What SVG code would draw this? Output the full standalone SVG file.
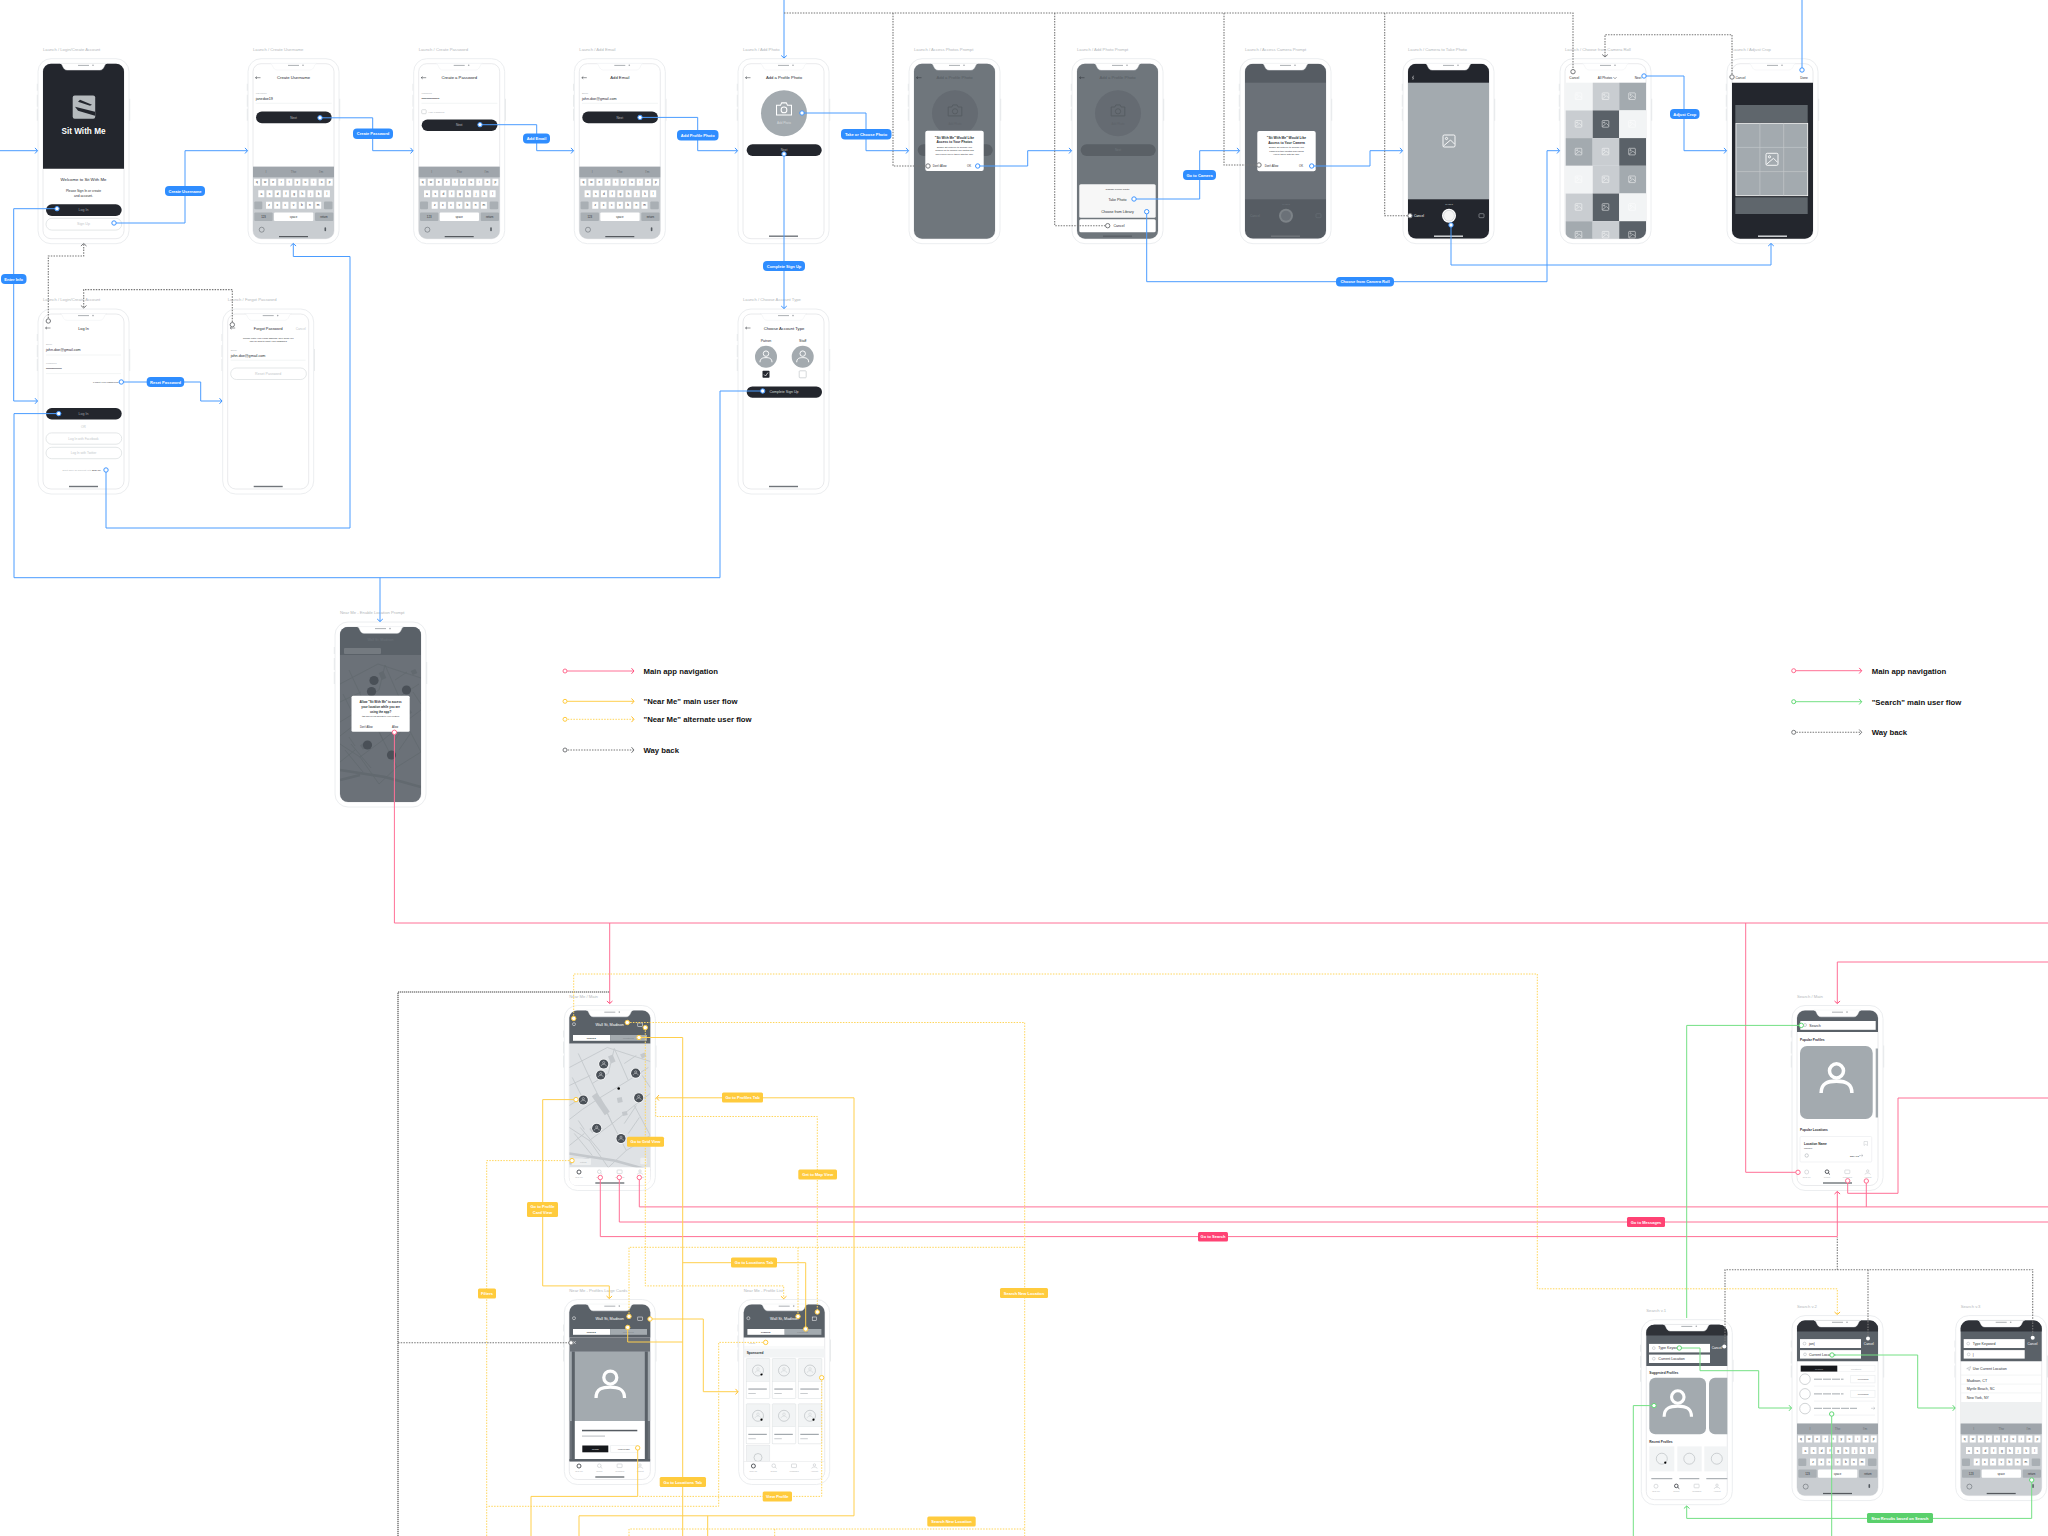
<svg xmlns="http://www.w3.org/2000/svg" width="2048" height="1536" viewBox="0 0 2048 1536">
<style>
text{font-family:"Liberation Sans",Arial,sans-serif;fill:#2b2e33;font-size:3.6px}
.m{text-anchor:middle}.e{text-anchor:end}.h{font-weight:700}
.nl{font-size:4.2px;fill:#b4b8bb}
.ti{font-size:4.2px;fill:#25282e}
.sm{font-size:2.4px;fill:#aeb2b6}
.v{font-size:3.7px;fill:#25282e}
.tn{font-size:2.5px;fill:#44484d}
.w{fill:#fff}.lg{fill:#c3c7ca}
.bd{fill:#23262d}.bo{fill:#fff;stroke:#d9dcde;stroke-width:.7}
.hr{stroke:#eef0f1;stroke-width:.7;fill:none}
.ar{stroke:#30343a;stroke-width:.5;fill:none}
.c{fill:none;stroke-width:1}
.b{stroke:#4a9cff;marker-end:url(#ab)}.b0{stroke:#4a9cff}
.g{stroke:#777;stroke-width:1.1;stroke-dasharray:1.5 1.2;marker-end:url(#ag)}.g0{stroke:#777;stroke-width:1.1;stroke-dasharray:1.5 1.2}
.gt{stroke:#777;stroke-width:1.5;stroke-dasharray:1.2 .8}
.p{stroke:#ff7096;marker-end:url(#ap)}.p0{stroke:#ff7096}
.y{stroke:#ffcf4d;marker-end:url(#ay)}.y0{stroke:#ffcf4d}
.d{stroke:#ffd65c;stroke-dasharray:1.5 1.3;marker-end:url(#ay)}.d0{stroke:#ffd65c;stroke-dasharray:1.5 1.3}
.n{stroke:#74e084;marker-end:url(#an)}.n0{stroke:#74e084}
.cb,.cg,.cp,.cy,.cn{fill:#fff;stroke-width:1}
.cb{stroke:#3d94ff}.cg{stroke:#77797c}.cp{stroke:#ff6b8f}.cy{stroke:#ffcb3d}.cn{stroke:#5fd873}
.lb{fill:#2f8dff}.ly{fill:#ffcb3d}.lp{fill:#ff4274}.ln{fill:#5ad06c}
.lt{font-size:4px;font-weight:700;fill:#fff;text-anchor:middle}
.lgd{font-size:7.750px;font-weight:700;fill:#111}
</style>
<defs>
<marker id="ab" markerUnits="userSpaceOnUse" markerWidth="6" markerHeight="8" refX="4" refY="4" orient="auto"><path d="M1.5 1.2L4 4L1.5 6.8" fill="none" stroke="#3d94ff"/></marker>
<marker id="ag" markerUnits="userSpaceOnUse" markerWidth="6" markerHeight="8" refX="4" refY="4" orient="auto"><path d="M1.5 1.2L4 4L1.5 6.8" fill="none" stroke="#77797c"/></marker>
<marker id="ap" markerUnits="userSpaceOnUse" markerWidth="6" markerHeight="8" refX="4" refY="4" orient="auto"><path d="M1.5 1.2L4 4L1.5 6.8" fill="none" stroke="#ff4f7e"/></marker>
<marker id="ay" markerUnits="userSpaceOnUse" markerWidth="6" markerHeight="8" refX="4" refY="4" orient="auto"><path d="M1.5 1.2L4 4L1.5 6.8" fill="none" stroke="#ffc02e"/></marker>
<marker id="an" markerUnits="userSpaceOnUse" markerWidth="6" markerHeight="8" refX="4" refY="4" orient="auto"><path d="M1.5 1.2L4 4L1.5 6.8" fill="none" stroke="#5fd873"/></marker>
<clipPath id="scr"><rect x="5" y="5" width="81" height="175" rx="8"/></clipPath>
<g id="frame">
<path d="M-.6 25v7M-.6 36v12M-.6 50v12M91.6 40v22" stroke="#e6e8ea" stroke-width="1.2"/>
<rect width="91" height="185" rx="13" fill="#fff" stroke="#eceef0"/>
<rect x="5" y="5" width="81" height="175" rx="8" fill="#fff" stroke="#e3e5e7" stroke-width=".8"/>
</g>
<g id="notch">
<path d="M22 4.6H69C66 5 66.500 11.300 62 11.300H29C24.500 11.300 25 5 22 4.600Z" fill="#fff" stroke="#eceef0" stroke-width=".5"/>
<rect x="40" y="6.200" width="11" height=".9" fill="#a4a8ac"/><circle cx="55" cy="6.600" r=".8" fill="#a4a8ac"/>
</g>
<rect id="home" x="31" y="176.800" width="29" height="1.400" fill="#70757a"/>
<g id="back"><path class="ar" d="M-2.500 0H2.500M-2.500 0L-1 -1.200M-2.500 0L-1 1.200"/></g>
<g id="user" fill="none"><circle cy="-3.200" r="2.600"/><path d="M-5.700 5C-5.700 1.200-3 .6 0 .6S5.700 1.200 5.700 5"/></g>
<g id="image" fill="none"><rect x="-6" y="-6" width="12" height="12" rx="1.200"/><circle cx="-2.500" cy="-2.500" r="1.100"/><path d="M-5.500 5L1.500 -1L5.500 3"/></g>
<g id="camera" fill="none"><path d="M-6.500 -3.500H-3L-2 -5.500H2L3 -3.500H6.500V5H-6.500Z"/><circle cy=".6" r="2.500"/></g>
<g id="cell"><use href="#image" stroke="#fff" stroke-width=".9" transform="scale(.55)"/></g>
<g id="kb">
<path d="M5 108H86V172a8 8 0 0 1-8 8H13a8 8 0 0 1-8-8Z" fill="#c9cdd1"/>
<rect x="5" y="108" width="81" height="10.600" fill="#9fa5ab"/>
<path d="M6 123.500H85" stroke="#fff" stroke-width="7" stroke-dasharray="6 2.080"/>
<path d="M10.300 135H82" stroke="#fff" stroke-width="7" stroke-dasharray="6 2.200"/>
<path d="M18 146.500H73.400" stroke="#fff" stroke-width="7" stroke-dasharray="6 2.200"/>
<rect x="6.300" y="142.900" width="8" height="7.600" rx="1" fill="#a9afb4"/><rect x="76" y="142.900" width="8.500" height="7.600" rx="1" fill="#a9afb4"/>
<rect x="6.300" y="153.800" width="18.400" height="8.400" rx="1" fill="#a9afb4"/><rect x="26" y="153.800" width="39.300" height="8.400" rx="1" fill="#fff"/><rect x="67" y="153.800" width="18.300" height="8.400" rx="1" fill="#a9afb4"/>
<g style="font-size:3.200px" class="m">
<text class="m" style="fill:#666c72;font-size:3.200px" x="18" y="114.500">I</text><text class="m" style="fill:#666c72;font-size:3.200px" x="45.500" y="114.500">The</text><text class="m" style="fill:#666c72;font-size:3.200px" x="73" y="114.500">I'm</text>
<text class="m" x="9 17.100 25.200 33.200 41.300 49.400 57.500 65.600 73.600 81.700" y="124.700" style="font-size:3.200px">qwertyuiop</text>
<text class="m" x="13.300 21.500 29.700 37.900 46.100 54.300 62.500 70.700 78.900" y="136.200" style="font-size:3.200px">asdfghjkl</text>
<text class="m" x="21 29.200 37.400 45.600 53.800 62 70.200" y="147.700" style="font-size:3.200px">zxcvbnm</text>
<text class="m" x="15.500" y="159" style="font-size:2.800px">123</text><text class="m" x="45.500" y="159" style="font-size:2.800px">space</text><text class="m" x="76" y="159" style="font-size:2.800px">return</text>
</g>
<circle cx="13.700" cy="171" r="2.500" fill="none" stroke="#555b61" stroke-width=".5"/><rect x="76.500" y="168.500" width="1.600" height="4" rx=".8" fill="#555b61"/>
<rect x="31" y="177.300" width="29" height="1.200" fill="#55595e"/>
</g>
<g id="nh">
<path d="M5 38V13a8 8 0 0 1 8-8H78a8 8 0 0 1 8 8V38Z" fill="#5a6168"/>
<text class="m" x="45.500" y="20.500" style="fill:#fff;font-size:3.800px">Wall St, Madison</text>
<circle cx="9.700" cy="18.700" r="1.500" fill="none" stroke="#fff" stroke-width=".5"/>
<rect x="73.500" y="17.500" width="4.500" height="3.500" fill="none" stroke="#fff" stroke-width=".5"/>
<rect x="8.700" y="29.500" width="37.300" height="5.800" fill="#fff"/><rect x="46" y="29.500" width="36.700" height="5.800" fill="#a3aaaf"/>
<text class="m h" x="27" y="33.300" style="font-size:2.500px">Profiles</text><text class="m" x="64" y="33.300" style="font-size:2.500px;fill:#7d8388">Locations</text>
</g>
<g id="tabs">
<g fill="none" stroke="#b8bcc0" stroke-width=".5"><circle cx="14.700" cy="166.500" r="2"/><circle cx="35" cy="166.200" r="1.800"/><path d="M36.300 167.500L38 169"/><rect x="52.800" y="164.500" width="5" height="3.600" rx=".6"/><circle cx="75.700" cy="165.500" r="1.200"/><path d="M73 169c0-2 5.400-2 5.400 0"/></g>
<text class="m sm" style="font-size:2px" x="14.700" y="172">Near Me</text><text class="m sm" style="font-size:2px" x="35" y="172">Search</text><text class="m sm" style="font-size:2px" x="55.400" y="172">Messages</text><text class="m sm" style="font-size:2px" x="75.700" y="172">Account</text>
</g>
<circle id="nm-on" cx="14.700" cy="166.500" r="2" fill="none" stroke="#30343a" stroke-width=".7"/>
<g id="se-on" fill="none" stroke="#30343a" stroke-width=".7"><circle cx="35" cy="166.200" r="1.800"/><path d="M36.300 167.500L38 169"/></g>
<g id="map" fill="none">
<path d="M5 62L43 42L86 56M14 48L28 78L48 118M50 43L64 75L84 62M64 75L36 92L18 104L5 114M36 92L48 118L70 100L86 88M70 100L86 130M48 118L25 135L5 122M48 118L62 145L44 162M62 145L86 130M25 135L44 162M10 128L28 150M16 122L36 146M5 140L20 128M5 80L26 70M8 72L18 92L5 100M28 78L44 68M44 68L50 43M60 58L72 50M72 100L60 118M75 112L64 128M78 70L86 82M14 115L20 124"/>
<path stroke-width="2.500" d="M5 148L50 155L86 165M5 158L25 153"/>
<path stroke-width="6" d="M30 89L43 108"/>
<path stroke-width="5" d="M46 50L49 57M55 92L56 97M60 106L61 110M72 88L75 92M27 122L30 126M78 48L80 52"/>
</g>
<g id="pin"><circle r="5.200" fill="#fff"/><circle r="4.600" fill="#4a5057"/><use href="#user" stroke="#fff" stroke-width=".9" transform="scale(.42)"/></g>
<g id="dimphoto">
<rect x="5" y="5" width="81" height="175" rx="8" fill="#6f767c"/>
<text class="m" x="45.500" y="20" style="font-size:4.200px;fill:#565c62">Add a Profile Photo</text>
<use href="#back" transform="translate(10 19)"/>
<circle cx="46" cy="54.600" r="23" fill="#656b72"/><use href="#camera" stroke="#565c62" stroke-width=".9" transform="translate(46 52) scale(1.050)"/>
<text class="m" x="46" y="66" style="font-size:2.800px;fill:#5d6369">Add Photo</text>
<rect x="8.700" y="85.600" width="75" height="11.700" rx="5.800" fill="#5a6066"/><text class="m" x="46" y="92.600" style="fill:#6f767c;font-size:3px">Next</text>
</g>
<g id="lcard"><rect width="23.500" height="40" rx=".8" fill="#f2f4f5" stroke="#dfe2e4" stroke-width=".6"/><rect y="23" width="23.500" height="17" fill="#fff" stroke="#dfe2e4" stroke-width=".4"/><circle cx="11.700" cy="12" r="5.500" fill="none" stroke="#b2b7bb" stroke-width=".6"/><use href="#user" stroke="#b2b7bb" stroke-width=".6" transform="translate(11.700 12) scale(.5)"/><rect x="2" y="30" width="18.500" height="1.100" fill="#9aa0a6"/><rect x="2" y="34.500" width="7.500" height=".9" fill="#c3c7ca"/></g>
</defs>
<rect width="2048" height="1536" fill="#fff"/>

<g id="phone-login-create" transform="translate(38 58.700)"><use href="#frame"/><text class="nl" x="5" y="-8">Launch / Login/Create Account</text>
<path d="M5 110V13a8 8 0 0 1 8-8H78a8 8 0 0 1 8 8V110Z" fill="#23262d"/>
<rect x="34.700" y="36.700" width="22.500" height="23.300" rx="2" fill="#b5babd"/><path d="M37 48L57 53V57L40 52Z" fill="#23262d"/><path d="M42 41L54 46L52 47L40 43Z" fill="#23262d"/>
<text class="m h" x="45.500" y="75.200" style="fill:#fff;font-size:8.200px">Sit With Me</text>
<text class="m" x="45.500" y="122.700" style="font-size:4.300px;fill:#25282e">Welcome to Sit With Me</text>
<text class="m" x="45.500" y="133.200" style="font-size:3.300px">Please Sign In or create</text><text class="m" x="45.500" y="138.500" style="font-size:3.300px">and account.</text>
<rect class="bd" x="8" y="145.500" width="75.700" height="11.800" rx="5.900"/><text class="m" x="45.500" y="152.600" style="fill:#9ca1a6">Log In</text>
<rect class="bo" x="8" y="159.600" width="75.700" height="11.800" rx="5.900"/><text class="m lg" x="45.500" y="166.700">Sign Up</text>
<use href="#notch"/></g>

<g id="phone-create-username" transform="translate(248 58.700)"><use href="#frame"/><text class="nl" x="5" y="-8">Launch / Create Username</text>
<use href="#back" transform="translate(10 19)"/><text class="m ti" x="45.500" y="20.500">Create Username</text>
<text class="sm" x="7.700" y="35.500">Username</text><text class="v" x="7.700" y="41.300">janedoe19</text><path class="hr" d="M7.700 44.600H83.700"/>
<rect class="bd" x="8" y="52.900" width="75.700" height="11.700" rx="5.800"/><text class="m" x="45.500" y="60" style="fill:#bbb;font-size:3.200px">Next</text>
<use href="#kb"/><use href="#notch"/></g>

<g id="phone-create-password" transform="translate(413.700 58.700)"><use href="#frame"/><text class="nl" x="5" y="-8">Launch / Create Password</text>
<use href="#back" transform="translate(10 19)"/><text class="m ti" x="45.500" y="20.500">Create a Password</text>
<text class="sm" x="7.700" y="35.500">Password</text><text class="v" x="7.700" y="41.300" style="font-size:3px">•••••••••••••••••</text><path class="hr" d="M7.700 44.600H83.700"/>
<rect x="8" y="51" width="4.500" height="4" rx=".8" fill="none" stroke="#c3c7ca" stroke-width=".6"/><text class="sm" x="14.500" y="54">Hide Password</text>
<rect class="bd" x="8" y="60.800" width="75.700" height="11.400" rx="5.700"/><text class="m" x="45.500" y="67.700" style="fill:#bbb;font-size:3.200px">Next</text>
<use href="#kb"/><use href="#notch"/></g>

<g id="phone-add-email" transform="translate(574.300 58.700)"><use href="#frame"/><text class="nl" x="5" y="-8">Launch / Add Email</text>
<use href="#back" transform="translate(10 19)"/><text class="m ti" x="45.500" y="20.500">Add Email</text>
<text class="sm" x="7.700" y="35.500">Email</text><text class="v" x="7.700" y="41.300">john.doe@gmail.com</text><path class="hr" d="M7.700 44.600H83.700"/>
<rect class="bd" x="8" y="52.900" width="75.700" height="11.700" rx="5.800"/><text class="m" x="45.500" y="60" style="fill:#bbb;font-size:3.200px">Next</text>
<use href="#kb"/><use href="#notch"/></g>

<g id="phone-add-photo" transform="translate(738 58.700)"><use href="#frame"/><text class="nl" x="5" y="-8">Launch / Add Photo</text>
<use href="#back" transform="translate(10 19)"/><text class="m ti" x="46" y="20.500">Add a Profile Photo</text>
<circle cx="46" cy="54.600" r="23" fill="#a3aaaf"/><use href="#camera" stroke="#fff" stroke-width=".9" transform="translate(46 50.500) scale(1.150)"/>
<text class="m" x="46" y="65.500" style="font-size:3px;fill:#d6d9db">Add Photo</text>
<rect class="bd" x="8.700" y="85.600" width="75" height="11.700" rx="5.800"/><text class="m" x="46" y="92.600" style="fill:#bbb;font-size:3.200px">Next</text>
<use href="#home"/><use href="#notch"/></g>

<g id="phone-access-photos" transform="translate(909 58.700)"><use href="#frame"/><text class="nl" x="5" y="-8">Launch / Access Photos Prompt</text>
<use href="#dimphoto"/>
<rect x="16.300" y="72" width="58.400" height="40.400" rx="2" fill="#fff"/>
<text class="m h" x="45.500" y="80" style="font-size:3.300px">"Sit With Me" Would Like</text><text class="m h" x="45.500" y="84.800" style="font-size:3.300px">Access to Your Photos</text>
<text class="m" x="45.500" y="89.200" style="font-size:2.300px">Enable Sit With Me to access your</text><text class="m" x="45.500" y="92.700" style="font-size:2.300px">camera roll to upload your photos and</text><text class="m" x="45.500" y="96.200" style="font-size:2.300px">open ones you've taken with the app.</text>
<text class="m" x="30.700" y="108.700" style="font-size:2.800px">Don't Allow</text><text class="m" x="60" y="108.700" style="font-size:2.800px">OK</text>
<use href="#notch"/></g>

<g id="phone-photo-prompt" transform="translate(1072 58.700)"><use href="#frame"/><text class="nl" x="5" y="-8">Launch / Add Photo Prompt</text>
<use href="#dimphoto"/>
<rect x="7.300" y="125.600" width="76.400" height="33.400" rx="1.500" fill="#f7f7f7"/>
<rect x="7.300" y="160.600" width="76.400" height="13" rx="1.500" fill="#fff"/>
<text class="m" x="45.500" y="131.600" style="font-size:2.500px">Change Profile Photo</text>
<text class="m" x="45.500" y="141.900">Take Photo</text><text class="m" x="45.500" y="154.300">Choose from Library</text><text class="m" x="47" y="168.300">Cancel</text>
<rect x="31" y="176.800" width="29" height="1.400" fill="#5a6066"/><use href="#notch"/></g>

<g id="phone-access-camera" transform="translate(1240 58.700)"><use href="#frame"/><text class="nl" x="5" y="-8">Launch / Access Camera Prompt</text>
<g clip-path="url(#scr)"><rect x="5" y="5" width="81" height="175" fill="#565c63"/><rect x="5" y="24" width="81" height="116.600" fill="#6b7178"/></g>
<circle cx="46" cy="157" r="7" fill="#7d8388"/><circle cx="46" cy="157" r="5" fill="#6b7178"/>
<text class="m" x="46" y="146" style="font-size:2.200px;fill:#6f767c">PHOTO</text><text x="10" y="158.200" style="fill:#6f767c;font-size:3.200px">Cancel</text>
<rect x="76" y="155" width="5" height="4" rx=".8" fill="none" stroke="#6f767c" stroke-width=".5"/>
<rect x="17.300" y="72.300" width="58.400" height="40.300" rx="2" fill="#fff"/>
<text class="m h" x="46.500" y="80.300" style="font-size:3.300px">"Sit With Me" Would Like</text><text class="m h" x="46.500" y="85" style="font-size:3.300px">Access to Your Camera</text>
<text class="m" x="46.500" y="89.700" style="font-size:2.300px">Enable Sit With Me to access your</text><text class="m" x="46.500" y="93.200" style="font-size:2.300px">camera to take photos and videos</text><text class="m" x="46.500" y="96.700" style="font-size:2.300px">you've taken with the app.</text>
<text class="m" x="31.500" y="108.700" style="font-size:2.800px">Don't Allow</text><text class="m" x="61" y="108.700" style="font-size:2.800px">OK</text>
<use href="#home"/><use href="#notch"/></g>

<g id="phone-camera" transform="translate(1403 58.700)"><use href="#frame"/><text class="nl" x="5" y="-8">Launch / Camera to Take Photo</text>
<g clip-path="url(#scr)"><rect x="5" y="5" width="81" height="175" fill="#23262d"/><rect x="5" y="24" width="81" height="116.600" fill="#a3aaaf"/></g>
<use href="#image" stroke="#fff" stroke-width=".9" transform="translate(46 82.300)"/>
<circle cx="46" cy="157" r="7" fill="#fff"/><circle cx="46" cy="157" r="5.400" fill="#f4f4f4" stroke="#a3aaaf" stroke-width=".4"/>
<text class="m" x="46" y="146" style="font-size:2.200px;fill:#c3c7ca">PHOTO</text><text class="w" x="11" y="158.200" style="font-size:3.200px">Cancel</text>
<rect x="76" y="155" width="5" height="4" rx=".8" fill="none" stroke="#c3c7ca" stroke-width=".5"/>
<path d="M10.500 17L9.500 19.200H10.500L9.800 21" stroke="#fff" stroke-width=".5" fill="none"/>
<rect x="31" y="176.800" width="29" height="1.400" fill="#dfe2e4"/><use href="#notch"/></g>

<g id="phone-camera-roll" transform="translate(1560 58.700)"><use href="#frame"/><text class="nl" x="5" y="-8">Launch / Choose from Camera Roll</text>
<text class="m" x="14.300" y="20.200" style="font-size:3.200px">Cancel</text><text class="m" x="45" y="20.200" style="font-size:3.200px">All Photos</text><path d="M53.500 18.500L55 20L56.500 18.500" fill="none" stroke="#30343a" stroke-width=".5"/><text class="m" x="78" y="20.200" style="font-size:3.200px">Next</text>
<g clip-path="url(#scr)">
<rect x="5.700" y="24" width="27" height="27.700" fill="#f2f4f5"/><rect x="32.700" y="24" width="26.500" height="27.700" fill="#c9cdd1"/><rect x="59.200" y="24" width="26.800" height="27.700" fill="#a3aaaf"/>
<rect x="5.700" y="51.700" width="27" height="27.700" fill="#c9cdd1"/><rect x="32.700" y="51.700" width="26.500" height="27.700" fill="#5a6168"/><rect x="59.200" y="51.700" width="26.800" height="27.700" fill="#f2f4f5"/>
<rect x="5.700" y="79.400" width="27" height="27.700" fill="#a3aaaf"/><rect x="32.700" y="79.400" width="26.500" height="27.700" fill="#c9cdd1"/><rect x="59.200" y="79.400" width="26.800" height="27.700" fill="#5a6168"/>
<rect x="5.700" y="107.100" width="27" height="27.700" fill="#f2f4f5"/><rect x="32.700" y="107.100" width="26.500" height="27.700" fill="#c9cdd1"/><rect x="59.200" y="107.100" width="26.800" height="27.700" fill="#a3aaaf"/>
<rect x="5.700" y="134.800" width="27" height="27.700" fill="#c9cdd1"/><rect x="32.700" y="134.800" width="26.500" height="27.700" fill="#5a6168"/><rect x="59.200" y="134.800" width="26.800" height="27.700" fill="#f2f4f5"/>
<rect x="5.700" y="162.500" width="27" height="27.700" fill="#a3aaaf"/><rect x="32.700" y="162.500" width="26.500" height="27.700" fill="#c9cdd1"/><rect x="59.200" y="162.500" width="26.800" height="27.700" fill="#5a6168"/>
<use href="#cell" x="18.500" y="37.500"/><use href="#cell" x="45.500" y="37.500"/><use href="#cell" x="72" y="37.500"/>
<use href="#cell" x="18.500" y="65.200"/><use href="#cell" x="45.500" y="65.200"/><use href="#cell" x="72" y="65.200"/>
<use href="#cell" x="18.500" y="92.900"/><use href="#cell" x="45.500" y="92.900"/><use href="#cell" x="72" y="92.900"/>
<use href="#cell" x="18.500" y="120.600"/><use href="#cell" x="45.500" y="120.600"/><use href="#cell" x="72" y="120.600"/>
<use href="#cell" x="18.500" y="148.300"/><use href="#cell" x="45.500" y="148.300"/><use href="#cell" x="72" y="148.300"/>
<use href="#cell" x="18.500" y="176"/><use href="#cell" x="45.500" y="176"/><use href="#cell" x="72" y="176"/>
</g><use href="#notch"/></g>

<g id="phone-adjust-crop" transform="translate(1727 58.700)"><use href="#frame"/><text class="nl" x="5" y="-8">Launch / Adjust Crop</text>
<text class="m" x="13.500" y="20.200" style="font-size:3.200px">Cancel</text><text class="m" x="77" y="20.200" style="font-size:3.200px">Done</text>
<path d="M5 24H86V172a8 8 0 0 1-8 8H13a8 8 0 0 1-8-8Z" fill="#23262d"/>
<rect x="8.300" y="46.300" width="72.400" height="17.700" fill="#5f666c"/><rect x="8.300" y="138.600" width="72.400" height="16.700" fill="#5f666c"/>
<rect x="8.900" y="64.600" width="71.800" height="72.400" fill="#a3aaaf" stroke="#fff" stroke-width=".8"/>
<path d="M32.900 64.600V137M56.700 64.600V137M8.900 88.700H80.700M8.900 112.900H80.700" stroke="#c3c7ca" stroke-width=".7"/>
<use href="#image" stroke="#fff" stroke-width=".9" transform="translate(45 100.600)"/>
<rect x="31" y="176.800" width="29" height="1.400" fill="#dfe2e4"/><use href="#notch"/></g>

<g id="phone-log-in" transform="translate(38 309)"><use href="#frame"/><text class="nl" x="5" y="-8">Launch / Login/Create Account</text>
<use href="#back" transform="translate(10 19)"/><text class="m ti" x="45.500" y="20.500" style="font-size:3.800px">Log In</text>
<text class="sm" x="8" y="36.300">Email</text><text class="v" x="8" y="42.300">john.doe@gmail.com</text><path class="hr" d="M8 46H83"/>
<text class="sm" x="8" y="55.300">Password</text><text class="v" x="8" y="61" style="font-size:2.800px">••••••••••••••••</text><path class="hr" d="M8 64.600H83"/>
<text class="e tn" x="80.700" y="73.800">Forgot your password?</text>
<rect class="bd" x="8" y="99" width="75.700" height="11.400" rx="5.700"/><text class="m" x="45.500" y="106" style="fill:#9ca1a6">Log In</text>
<text class="m lg" x="45.500" y="119" style="font-size:3.200px">OR</text>
<rect class="bo" x="8" y="123.900" width="75.700" height="11.300" rx="5.600"/><text class="m lg" x="45.500" y="130.800" style="font-size:3.200px">Log In with Facebook</text>
<rect class="bo" x="8" y="138.300" width="75.700" height="11.400" rx="5.700"/><text class="m lg" x="45.500" y="145.200" style="font-size:3.200px">Log In with Twitter</text>
<text class="sm" x="24.500" y="162">Don't have an account yet?</text><text x="54" y="162" style="font-size:2.400px">Sign up!</text>
<use href="#home"/><use href="#notch"/></g>

<g id="phone-forgot" transform="translate(222.700 309)"><use href="#frame"/><text class="nl" x="5" y="-8">Launch / Forgot Password</text>
<use href="#back" transform="translate(10 19)"/><text class="m ti" x="45.500" y="20.500" style="font-size:3.800px">Forgot Password</text><text class="m lg" x="78" y="20.500" style="font-size:3.200px">Cancel</text>
<text class="m" x="45.500" y="29.800" style="font-size:2.400px">Please enter your email address, we'll send you</text><text class="m" x="45.500" y="33" style="font-size:2.400px">info on how to reset your password</text>
<text class="sm" x="8" y="42">Email</text><text class="v" x="8" y="47.700">john.doe@gmail.com</text><path class="hr" d="M8 51.200H83"/>
<rect class="bo" x="8" y="59" width="75.700" height="11.500" rx="5.700"/><text class="m lg" x="45.500" y="66">Reset Password</text>
<use href="#home"/><use href="#notch"/></g>

<g id="phone-account-type" transform="translate(738 309)"><use href="#frame"/><text class="nl" x="5" y="-8">Launch / Choose Account Type</text>
<use href="#back" transform="translate(10 19)"/><text class="m ti" x="46" y="20.500">Choose Account Type</text>
<text class="m" x="28" y="32.500">Patron</text><text class="m" x="64.700" y="32.500">Staff</text>
<circle cx="28" cy="47.700" r="11" fill="#a3aaaf"/><use href="#user" stroke="#fff" stroke-width=".9" transform="translate(28 48) scale(1.050)"/>
<circle cx="64.700" cy="47.700" r="11" fill="#a3aaaf"/><use href="#user" stroke="#fff" stroke-width=".9" transform="translate(64.700 48) scale(1.050)"/>
<rect class="bd" x="24.500" y="61.800" width="7" height="7" rx=".8"/><path d="M26 65.500L27.500 67L30 63.500" stroke="#fff" stroke-width=".7" fill="none"/>
<rect x="61.200" y="61.800" width="7" height="7" rx=".8" fill="#fff" stroke="#c3c7ca" stroke-width=".7"/>
<rect class="bd" x="8.700" y="77.400" width="75.300" height="11.300" rx="5.600"/><text class="m" x="46" y="84.400" style="fill:#d6d9db">Complete Sign Up</text>
<use href="#home"/><use href="#notch"/></g>

<g id="phone-location-prompt" transform="translate(335 622)"><use href="#frame"/><text class="nl" x="5" y="-8">Near Me - Enable Location Prompt</text>
<rect x="5" y="5" width="81" height="175" rx="8" fill="#6b7178"/>
<g clip-path="url(#scr)"><use href="#map" stroke="#62696f" stroke-width=".8"/><rect x="5" y="5" width="81" height="28" fill="#5a6168"/></g>
<rect x="9" y="26" width="37" height="6" rx="1" fill="#747a80"/>
<text class="m" x="45.500" y="19" style="fill:#6b7178;font-size:3.500px">Wall St, Madison</text>
<g fill="#4a5057"><circle cx="39" cy="58.500" r="4.600"/><circle cx="36.500" cy="69.500" r="4.600"/><circle cx="71.500" cy="68" r="4.600"/><circle cx="32.500" cy="123" r="4.600"/><circle cx="56.500" cy="133" r="4.600"/></g>
<rect x="16.500" y="73.700" width="58.200" height="36" rx="1.500" fill="#fff"/>
<text class="m h" x="45.600" y="81.200" style="font-size:3px">Allow "Sit With Me" to access</text><text class="m h" x="45.600" y="85.900" style="font-size:3px">your location while you are</text><text class="m h" x="45.600" y="90.600" style="font-size:3px">using the app?</text>
<text class="m" x="45.600" y="94.800" style="font-size:2.200px">this app needs access to your location</text>
<text class="m" x="31.300" y="106.300" style="font-size:2.600px">Don't Allow</text><text class="m" x="60" y="106.300" style="font-size:2.600px">Allow</text>
<use href="#notch"/></g>

<g id="phone-near-me-main" transform="translate(564.300 1005.500)"><use href="#frame"/><text class="nl" x="5" y="-8">Near Me / Main</text>
<g clip-path="url(#scr)"><rect x="5" y="38" width="81" height="124" fill="#dfe2e5"/><use href="#map" stroke="#c4c8cc" stroke-width=".9"/><rect x="5" y="162" width="81" height="18" fill="#fff"/></g>
<use href="#nh"/>
<use href="#pin" x="39.400" y="58.500"/><use href="#pin" x="36.400" y="69.500"/><use href="#pin" x="71.400" y="67.700"/><use href="#pin" x="74.400" y="92.300"/><use href="#pin" x="19" y="94.500"/><use href="#pin" x="32.400" y="122.800"/><use href="#pin" x="56.700" y="133"/>
<circle cx="54.400" cy="83" r="1.300" fill="#000"/>
<rect x="7.400" y="152.900" width="19.300" height="6.600" rx="1" fill="#eef0f1"/><text class="m sm" x="19" y="157.200">Filters</text>
<rect x="76" y="152.300" width="6.400" height="6.400" rx="1" fill="#eef0f1"/>
<use href="#tabs"/><use href="#nm-on"/><use href="#home"/><use href="#notch"/></g>

<g id="phone-near-me-large" transform="translate(564.300 1299.500)"><use href="#frame"/><text class="nl" x="5" y="-8">Near Me - Profiles Large Cards</text>
<g clip-path="url(#scr)"><rect x="5" y="38" width="81" height="124" fill="#6b7178"/><rect x="5" y="52" width="81" height="69.500" fill="#a3aaaf"/><rect x="7.500" y="52" width="3" height="109" fill="#5a6168"/><rect x="80.500" y="52" width="3" height="109" fill="#5a6168"/><rect x="10.500" y="121.500" width="70" height="38" fill="#fff"/><rect x="5" y="159.500" width="81" height="2.200" fill="#5a6168"/></g>
<use href="#nh"/>
<path d="M8.500 41.500L11.500 44.500M11.500 41.500L8.500 44.500" stroke="#fff" stroke-width=".5"/>
<use href="#user" stroke="#fff" stroke-width="1.300" transform="translate(46 86) scale(2.500)"/>
<rect x="17.700" y="130.300" width="55.300" height="1.500" fill="#555b61"/><rect x="17.700" y="136" width="23" height="1.200" fill="#c3c7ca"/>
<rect x="18" y="146" width="26" height="6.800" fill="#16181c"/><text class="m w" x="31" y="150.400" style="font-size:2.300px">Follow</text><rect class="bo" x="46.400" y="146" width="27" height="6.800" style="stroke:#eceef0"/><text class="m" x="59.500" y="150.400" style="font-size:2.300px">View Profile</text>
<use href="#tabs"/><use href="#nm-on"/><use href="#home"/><use href="#notch"/></g>

<g id="phone-near-me-list" transform="translate(738.700 1299.500)"><use href="#frame"/><text class="nl" x="5" y="-8">Near Me - Profile List</text>
<rect x="5" y="49" width="81" height="9" fill="#f2f4f5"/><text class="h" x="8" y="54.700" style="font-size:3.200px">Sponsored</text><text class="sm" x="10" y="44.700">Filters</text><path class="hr" d="M5 47.500H86"/>
<use href="#lcard" x="7.600" y="59"/><use href="#lcard" x="33.600" y="59"/><use href="#lcard" x="59.600" y="59"/>
<use href="#lcard" x="7.600" y="104.300"/><use href="#lcard" x="33.600" y="104.300"/><use href="#lcard" x="59.600" y="104.300"/>
<rect x="7.600" y="146" width="23.500" height="16" fill="#f2f4f5" stroke="#dfe2e4" stroke-width=".5"/><circle cx="19.300" cy="158" r="4" fill="none" stroke="#b2b7bb" stroke-width=".6"/>
<circle cx="22.800" cy="75" r="1.100" fill="#000"/><circle cx="22.800" cy="120.200" r="1.100" fill="#000"/><circle cx="74.800" cy="120.200" r="1.100" fill="#000"/>
<path d="M5 162H86V172a8 8 0 0 1-8 8H13a8 8 0 0 1-8-8Z" fill="#fff" stroke="#e3e5e7" stroke-width=".5"/>
<use href="#nh"/><use href="#tabs"/><use href="#nm-on"/><use href="#notch"/></g>

<g id="phone-search-main" transform="translate(1792 1005.500)"><use href="#frame"/><text class="nl" x="5" y="-8">Search / Main</text>
<path d="M5 26.500V13a8 8 0 0 1 8-8H78a8 8 0 0 1 8 8V26.500Z" fill="#5a6168"/>
<rect x="8.300" y="15.500" width="75.400" height="8.800" fill="#fff"/><circle cx="13" cy="19.500" r="1.500" fill="none" stroke="#9aa0a6" stroke-width=".5"/><text x="17.300" y="21">Search</text>
<text class="h" x="8" y="35" style="font-size:3.200px">Popular Profiles</text>
<rect x="8" y="40.500" width="72.700" height="73.100" rx="7" fill="#a3aaaf"/><path d="M83.700 43V112L86 112V43Z" fill="#a3aaaf"/>
<use href="#user" stroke="#fff" stroke-width="1.300" transform="translate(44.500 74) scale(2.700)"/>
<text class="h" x="8" y="125" style="font-size:3.200px">Popular Locations</text>
<rect x="8" y="131" width="71.700" height="25.500" rx="1" fill="#fff" stroke="#eceef0" stroke-width=".7"/>
<text class="h" x="12" y="139.200" style="font-size:3.200px">Location Name</text><text class="tn" x="12" y="143.200" style="font-size:2.200px">Madison</text>
<circle cx="14.700" cy="150" r="1.700" fill="none" stroke="#9aa0a6" stroke-width=".5"/><text x="58" y="151" style="font-size:2.200px">DETAILS</text><path d="M67 150H71M69.500 148.800L71 150L69.500 151.200" stroke="#9aa0a6" stroke-width=".4" fill="none"/>
<path d="M72 136H75.500V140L73.700 138.800L72 140Z" fill="none" stroke="#c3c7ca" stroke-width=".5"/>
<use href="#tabs"/><use href="#se-on"/><use href="#home"/><use href="#notch"/></g>

<g id="phone-search-1" transform="translate(1641.300 1319.700)"><use href="#frame"/><text class="nl" x="5" y="-8">Search v.1</text>
<path d="M5 46.300V13a8 8 0 0 1 8-8H78a8 8 0 0 1 8 8V46.300Z" fill="#5a6168"/><path d="M5 15.800V13a8 8 0 0 1 8-8H78a8 8 0 0 1 8 8V15.800Z" fill="#2f3238"/>
<rect x="7.700" y="24.200" width="61" height="8.500" fill="#fff"/><rect x="7.700" y="34.900" width="61" height="8.400" fill="#fff"/>
<text x="17" y="29.800">Type Keyword</text><text x="17" y="40.300">Current Location</text><circle cx="12.500" cy="28.400" r="1.400" fill="none" stroke="#9aa0a6" stroke-width=".4"/><circle cx="12.500" cy="39" r="1.400" fill="none" stroke="#9aa0a6" stroke-width=".4"/>
<text class="w" x="70.400" y="29.700" style="font-size:3.200px">Cancel</text>
<text class="h" x="8" y="54.500" style="font-size:3.200px">Suggested Profiles</text>
<rect x="8" y="58" width="56.700" height="56.600" rx="6" fill="#a3aaaf"/><path d="M86 58H73.700a6 6 0 0 0-6 6V108.600a6 6 0 0 0 6 6H86Z" fill="#a3aaaf"/>
<use href="#user" stroke="#fff" stroke-width="1.300" transform="translate(36.500 85) scale(2.400)"/>
<text class="h" x="8" y="123" style="font-size:3.200px">Recent Profiles</text>
<rect x="8" y="126.700" width="25" height="25" fill="#f2f4f5"/><rect x="36" y="126.700" width="24.400" height="25" fill="#f2f4f5"/><rect x="63" y="126.700" width="23" height="25" fill="#f2f4f5"/>
<g fill="none" stroke="#b2b7bb" stroke-width=".6"><circle cx="20.500" cy="139" r="5.500"/><circle cx="48" cy="139" r="5.500"/><circle cx="75.500" cy="139" r="5.500"/></g>
<circle cx="24" cy="143" r="1.100" fill="#000"/><path d="M10 159H31M38 159H58M65 159H86" stroke="#9aa0a6" stroke-width="1"/>
<use href="#tabs"/><use href="#se-on"/><use href="#notch"/></g>

<g id="phone-search-2" transform="translate(1792 1315.600)"><use href="#frame"/><text class="nl" x="5" y="-8">Search v.2</text>
<path d="M5 45.600V13a8 8 0 0 1 8-8H78a8 8 0 0 1 8 8V45.600Z" fill="#5a6168"/><path d="M5 15.800V13a8 8 0 0 1 8-8H78a8 8 0 0 1 8 8V15.800Z" fill="#2f3238"/>
<rect x="8" y="23.500" width="61" height="8.900" fill="#fff"/><rect x="8" y="34.500" width="61" height="8.500" fill="#fff"/>
<text x="17" y="29.300">jon|</text><text x="17" y="40">Current Location</text><circle cx="12.500" cy="28" r="1.400" fill="none" stroke="#9aa0a6" stroke-width=".4"/><circle cx="13" cy="38.800" r="1.400" fill="none" stroke="#9aa0a6" stroke-width=".4"/>
<text class="w m" x="76.800" y="29.200" style="font-size:3.200px">Cancel</text>
<rect x="8.700" y="50" width="37" height="6" fill="#16181c"/><rect x="45.700" y="50" width="37.300" height="6" fill="#fff" stroke="#eceef0" stroke-width=".5"/><text class="m sm" x="27" y="54">Profiles</text><text class="m sm" x="64" y="54">Locations</text>
<g fill="#fff" stroke="#b2b7bb" stroke-width=".6"><circle cx="13" cy="63.600" r="5.300"/><circle cx="13" cy="78.300" r="5.300"/><circle cx="13" cy="93" r="5.300"/></g>
<path d="M22 63.600H51.500M22 78.300H51.500M22 92.700H65" stroke="#9aa0a6" stroke-width=".9" stroke-dasharray="8 1"/>
<path d="M22 70.500H83M22 85.500H83M22 99.500H83" stroke="#eceef0" stroke-width=".7"/>
<rect class="bo" x="58.700" y="60" width="24.300" height="7.300" style="stroke:#eceef0"/><rect class="bo" x="58.700" y="74.700" width="24.300" height="7.300" style="stroke:#eceef0"/><text class="m tn" x="71" y="64.500">Following</text><text class="m tn" x="71" y="79.200">Following</text>
<path d="M79 92.700H83M81.500 91.500L83 92.700L81.500 93.900" stroke="#9aa0a6" stroke-width=".4" fill="none"/>
<use href="#kb"/><use href="#notch"/></g>

<g id="phone-search-3" transform="translate(1955.700 1315.600)"><use href="#frame"/><text class="nl" x="5" y="-8">Search v.3</text>
<path d="M5 45.600V13a8 8 0 0 1 8-8H78a8 8 0 0 1 8 8V45.600Z" fill="#5a6168"/><path d="M5 15.800V13a8 8 0 0 1 8-8H78a8 8 0 0 1 8 8V15.800Z" fill="#2f3238"/>
<rect x="8" y="23.500" width="61" height="8.900" fill="#fff"/><rect x="8" y="34.500" width="61" height="8.500" fill="#fff"/>
<text x="17" y="29.300">Type Keyword</text><text x="17" y="40.200">|</text><circle cx="12.500" cy="28" r="1.400" fill="none" stroke="#9aa0a6" stroke-width=".4"/><circle cx="13" cy="38.800" r="1.400" fill="none" stroke="#9aa0a6" stroke-width=".4"/>
<text class="w m" x="76.800" y="29.200" style="font-size:3.200px">Cancel</text>
<text x="17" y="54.600">Use Current Location</text><path d="M11 53L15 51L13.500 55L13 53.300Z" fill="none" stroke="#9aa0a6" stroke-width=".4"/>
<text x="11" y="66">Madison, CT</text><text x="11" y="74.800">Myrtle Beach, SC</text><text x="11" y="83.600">New York, NY</text>
<path class="hr" d="M5 59.500H86M5 68.500H86M5 77.300H86"/><rect x="5" y="86.400" width="81" height="21.600" fill="#eef0f1"/>
<use href="#kb"/><use href="#notch"/></g>

<g id="connectors" class="c" fill="none">
<path class="b" d="M0 150.700H37.500"/><path class="b" d="M114 223H185V150.700H247.500"/><path class="b" d="M320 117.800H372.700V150.700H413"/><path class="b" d="M480 124.700H536.700V150.700H573.500"/><path class="b" d="M640 117.400H697.700V150.700H737.500"/><path class="b" d="M802 113H866V150.700H908.500"/><path class="b" d="M784 0V58"/><path class="b" d="M784 154V308.500"/><path class="b" d="M977.700 166H1027.700V150.700H1071.500"/><path class="b" d="M1134 199H1199.700V150.700H1239.500"/><path class="b" d="M1146.700 211.700V281.700H1547V150.700H1559.500"/><path class="b" d="M1311.700 166H1370V150.700H1402.500"/><path class="b" d="M1451 225V265H1771V243.500"/><path class="b" d="M1644 76H1684V150.700H1726.500"/><path class="b0" d="M1802 70V0"/><path class="b" d="M57 208.700H13.700V401H37.500"/><path class="b0" d="M58.700 413.600H14V577.700H720V391H762.700"/><path class="b" d="M380 577.700V621.500"/><path class="b" d="M106 470V528H350V256.500H293.300V243.500"/><path class="b" d="M121.300 382H200.700V401H222"/>
<path class="g0" d="M784 13H1573V71.700"/><path class="g0" d="M893 13V166H928"/><path class="g0" d="M1054.700 13V225.700H1107.700"/><path class="g0" d="M1224 13V165H1259"/><path class="g0" d="M1384.700 13V215.700H1410"/><path class="g" d="M1732 77V34.700H1605V57"/><path class="g" d="M48.300 321V256H83.700V243.500"/><path class="g" d="M232.300 324.700V289.600H83.700V308"/>
<path class="gt" d="M609.300 992H398V1536"/><path class="g0" d="M398 1342.800H571"/><path class="g0" d="M1725 1346.500V1269.700H2032.700V1337.700"/><path class="g0" d="M1868 1269.700V1338.400"/><path class="g0" d="M1837.300 1270V1237"/>
<path class="p0" d="M394.400 732.300V923H2048"/><path class="p" d="M609.700 923V1003.500"/><path class="p0" d="M1745.700 923V1172.300H1798"/><path class="p" d="M600.300 1177.500V1236.600H1837.300V1191.500"/><path class="p0" d="M619.300 1177.500V1222H2048"/><path class="p0" d="M639.300 1177.500V1206.900H2048"/><path class="p0" d="M1866.300 1181V1206.900"/><path class="p0" d="M1847.700 1180.800V1193.300H1898V1098H2048"/><path class="p" d="M2048 962H1837.300V1003.500"/>
<path class="n0" d="M1801.300 1025.400H1686.700V1318"/><path class="n" d="M1679.300 1348H1700V1370.700H1758.700V1408H1791.500"/><path class="n" d="M1832 1355H1917.700V1408H1955.200"/><path class="n0" d="M1654 1405.600H1633.300V1536"/><path class="n0" d="M1831.700 1414V1536"/><path class="n" d="M2031.700 1480V1518.400H1686.700V1506"/>
<path class="y0" d="M639 1037.500H682.700V1536"/><path class="y0" d="M682.700 1262.700H805.700V1329"/><path class="y0" d="M627.700 1327.400V1342H682.700"/><path class="y" d="M854 1515.800V1097.800H656.500"/><path class="y0" d="M854 1515.800H579V1536"/><path class="y0" d="M707.700 1515.800V1536"/><path class="y" d="M576 1099.600H542.700V1285.900H609.300V1298.500"/><path class="y" d="M650 1319H703.300V1391.700H738"/><path class="y0" d="M637.700 1447.900V1496.400H531V1536"/>
<path class="d" d="M573.700 1018.400V974H1537.300V1288.800H1837.300V1314.500"/><path class="d0" d="M627.300 1022.500H1024.700V1536"/><path class="d" d="M645.300 1027.600V1285.900H783.700V1298.700"/><path class="d0" d="M655.700 1098V1116.500H817.300V1312"/><path class="d0" d="M572 1160.600H486.700V1536"/><path class="d0" d="M629 1316.400V1247.300H1024"/><path class="d0" d="M798 1247.300V1316.400"/><path class="d0" d="M765.700 1342.400H718.700V1506.300H486.700"/><path class="d0" d="M821.700 1377.700V1496.400H637.700"/><path class="d0" d="M629 1536V1529H1024.400"/><path class="d0" d="M774.700 1529V1536"/>
<g id="ports">
<circle class="cb" cx="114" cy="223" r="2.200"/><circle class="cb" cx="320" cy="117.800" r="2.200"/><circle class="cb" cx="480" cy="124.700" r="2.200"/><circle class="cb" cx="640" cy="117.400" r="2.200"/><circle class="cb" cx="802" cy="113" r="2.200"/><circle class="cb" cx="784" cy="154" r="2.200"/><circle class="cb" cx="977.700" cy="166" r="2.200"/><circle class="cb" cx="1134" cy="199" r="2.200"/><circle class="cb" cx="1146.700" cy="211.700" r="2.200"/><circle class="cb" cx="1311.700" cy="166" r="2.200"/><circle class="cb" cx="1451" cy="225" r="2.200"/><circle class="cb" cx="1644" cy="76" r="2.200"/><circle class="cb" cx="1802" cy="70" r="2.200"/><circle class="cb" cx="57" cy="208.700" r="2.200"/><circle class="cb" cx="58.700" cy="413.600" r="2.200"/><circle class="cb" cx="762.700" cy="391" r="2.200"/><circle class="cb" cx="106" cy="470" r="2.200"/><circle class="cb" cx="121.300" cy="382" r="2.200"/>
<circle class="cg" cx="1573" cy="71.700" r="2.200"/><circle class="cg" cx="928" cy="166" r="2.200"/><circle class="cg" cx="1107.700" cy="225.700" r="2.200"/><circle class="cg" cx="1259" cy="165" r="2.200"/><circle class="cg" cx="1410" cy="215.700" r="2.200"/><circle class="cg" cx="1732" cy="77" r="2.200"/><circle class="cg" cx="48.300" cy="321" r="2.200"/><circle class="cg" cx="232.300" cy="324.700" r="2.200"/><circle class="cg" cx="571" cy="1342.800" r="2.200"/><circle class="cg" cx="1724.300" cy="1346.500" r="2" style="stroke:none"/><circle class="cg" cx="1868" cy="1338.400" r="2" style="stroke:none"/><circle class="cg" cx="2032.700" cy="1337.700" r="2" style="stroke:none"/>
<circle class="cp" cx="394.400" cy="732.300" r="2.200"/><circle class="cp" cx="600.300" cy="1177.500" r="2.200"/><circle class="cp" cx="619.300" cy="1177.500" r="2.200"/><circle class="cp" cx="639.300" cy="1177.500" r="2.200"/><circle class="cp" cx="1798" cy="1172.300" r="2.200"/><circle class="cp" cx="1847.700" cy="1180.800" r="2.200"/><circle class="cp" cx="1866.300" cy="1181" r="2.200"/>
<circle class="cn" cx="1801.300" cy="1025.400" r="2.200"/><circle class="cn" cx="1679.300" cy="1348" r="2.200"/><circle class="cn" cx="1832" cy="1355" r="2.200"/><circle class="cn" cx="1654" cy="1405.600" r="2.200"/><circle class="cn" cx="1831.700" cy="1414" r="2.200"/><circle class="cn" cx="2031.700" cy="1480" r="2.200"/>
<circle class="cy" cx="573.700" cy="1018.400" r="2.200"/><circle class="cy" cx="627.300" cy="1022.500" r="2.200"/><circle class="cy" cx="645.300" cy="1027.600" r="2.200"/><circle class="cy" cx="639" cy="1037.500" r="2.200"/><circle class="cy" cx="576" cy="1099.600" r="2.200"/><circle class="cy" cx="572" cy="1160.600" r="2.200"/><circle class="cy" cx="629" cy="1316.400" r="2.200"/><circle class="cy" cx="650" cy="1319" r="2.200"/><circle class="cy" cx="627.700" cy="1327.400" r="2.200"/><circle class="cy" cx="637.700" cy="1447.900" r="2.200"/><circle class="cy" cx="798" cy="1316.400" r="2.200"/><circle class="cy" cx="805.700" cy="1329" r="2.200"/><circle class="cy" cx="817.300" cy="1312" r="2.200"/><circle class="cy" cx="765.700" cy="1342.400" r="2.200"/><circle class="cy" cx="821.700" cy="1377.700" r="2.200"/>
</g>
</g>

<g id="connector-labels">
<rect class="lb" x="165" y="186" width="40" height="10" rx="4"/><text class="lt" x="185" y="192.500">Create Username</text>
<rect class="lb" x="353" y="128.500" width="40" height="10.500" rx="4"/><text class="lt" x="373" y="135.200">Create Password</text>
<rect class="lb" x="523" y="133.600" width="27" height="10" rx="4"/><text class="lt" x="536.500" y="140">Add Email</text>
<rect class="lb" x="677" y="130" width="41.500" height="10.500" rx="4"/><text class="lt" x="697.700" y="136.700">Add Profile Photo</text>
<rect class="lb" x="841" y="129" width="50.500" height="10.500" rx="4"/><text class="lt" x="866" y="135.700">Take or Choose Photo</text>
<rect class="lb" x="763" y="261" width="42" height="10" rx="4"/><text class="lt" x="784" y="267.500">Complete Sign Up</text>
<rect class="lb" x="1183" y="170" width="33" height="10" rx="4"/><text class="lt" x="1199.500" y="176.500">Go to Camera</text>
<rect class="lb" x="1336" y="277" width="58" height="9.500" rx="4"/><text class="lt" x="1365" y="283.300">Choose from Camera Roll</text>
<rect class="lb" x="1670" y="109" width="29.500" height="10" rx="4"/><text class="lt" x="1684.700" y="115.500">Adjust Crop</text>
<rect class="lb" x="1" y="274" width="25.500" height="10" rx="4"/><text class="lt" x="13.700" y="280.500">Enter Info</text>
<rect class="lb" x="146.700" y="377" width="37.500" height="10" rx="4"/><text class="lt" x="165.500" y="383.500">Reset Password</text>
<rect class="ly" x="722" y="1092.600" width="41" height="10" rx="1.500"/><text class="lt" x="742.500" y="1099">Go to Profiles Tab</text>
<rect class="ly" x="627" y="1136.700" width="37" height="10" rx="1.500"/><text class="lt" x="645.500" y="1143.200">Go to Grid View</text>
<rect class="ly" x="798.300" y="1169.400" width="38.700" height="10" rx="1.500"/><text class="lt" x="817.700" y="1175.900">Get to Map View</text>
<rect class="ly" x="527" y="1202" width="31" height="15" rx="1.500"/><text class="lt" x="542.500" y="1208.200">Go to Profile</text><text class="lt" x="542.500" y="1213.500">Card View</text>
<rect class="ly" x="478" y="1288.400" width="18" height="10" rx="1.500"/><text class="lt" x="487" y="1294.900">Filters</text>
<rect class="ly" x="731" y="1257.600" width="46" height="10" rx="1.500"/><text class="lt" x="754" y="1264.100">Go to Locations Tab</text>
<rect class="ly" x="659.700" y="1477" width="46.300" height="10" rx="1.500"/><text class="lt" x="682.800" y="1483.500">Go to Locations Tab</text>
<rect class="ly" x="762.700" y="1491.600" width="29.300" height="10" rx="1.500"/><text class="lt" x="777.300" y="1498.100">View Profile</text>
<rect class="ly" x="1000" y="1288" width="48" height="10" rx="1.500"/><text class="lt" x="1024" y="1294.500">Search New Location</text>
<rect class="ly" x="927.300" y="1516.600" width="48.400" height="10" rx="1.500"/><text class="lt" x="951.500" y="1523.100">Search New Location</text>
<rect class="lp" x="1627" y="1217" width="38" height="10" rx="1.500"/><text class="lt" x="1646" y="1223.500">Go to Messages</text>
<rect class="lp" x="1198" y="1232" width="30" height="9.500" rx="1.500"/><text class="lt" x="1213" y="1238.200">Go to Search</text>
<rect class="ln" x="1867" y="1513" width="66" height="10" rx="1.500"/><text class="lt" x="1900" y="1519.500">New Results based on Search</text>
</g>

<g id="legend-left" fill="none">
<path class="p" d="M565 671H634"/><circle class="cp" cx="565" cy="671" r="2"/><text class="lgd" x="643.500" y="673.800">Main app navigation</text>
<path class="y" d="M565 701.300H634"/><circle class="cy" cx="565" cy="701.300" r="2"/><text class="lgd" x="643.500" y="704.100">"Near Me" main user flow</text>
<path class="d" d="M565 719.300H634"/><circle class="cy" cx="565" cy="719.300" r="2"/><text class="lgd" x="643.500" y="722.100">"Near Me" alternate user flow</text>
<path class="g" d="M565 750H634"/><circle class="cg" cx="565" cy="750" r="2"/><text class="lgd" x="643.500" y="752.800">Way back</text>
</g>
<g id="legend-right" fill="none">
<path class="p" d="M1793.700 670.700H1861.700"/><circle class="cp" cx="1793.700" cy="670.700" r="2"/><text class="lgd" x="1871.700" y="673.500">Main app navigation</text>
<path class="n" d="M1793.700 701.700H1861.700"/><circle class="cn" cx="1793.700" cy="701.700" r="2"/><text class="lgd" x="1871.700" y="704.500">"Search" main user flow</text>
<path class="g" d="M1793.700 732.300H1861.700"/><circle class="cg" cx="1793.700" cy="732.300" r="2"/><text class="lgd" x="1871.700" y="735.100">Way back</text>
</g>
</svg>
